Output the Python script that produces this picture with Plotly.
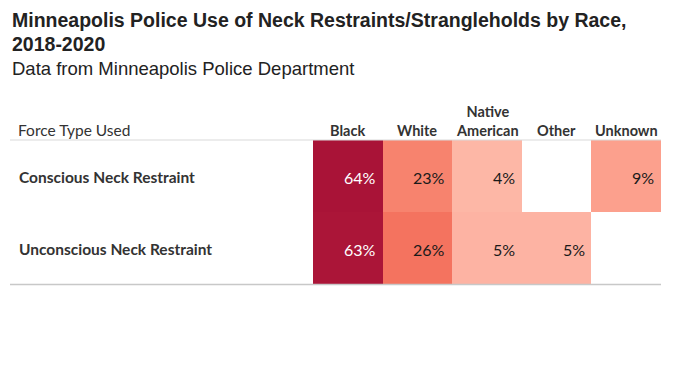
import plotly.graph_objects as go

# ---- data ----
force_types = ["Conscious Neck Restraint", "Unconscious Neck Restraint"]
races = ["Black", "White", "Native American", "Other", "Unknown"]
race_labels = ["Black", "White", "Native<br>American", "Other", "Unknown"]
conscious = [64, 23, 4, None, 9]
unconscious = [63, 26, 5, 5, None]
values = [conscious, unconscious]
title_text = "Minneapolis Police Use of Neck Restraints/Strangleholds by Race,<br>2018-2020"
subtitle_text = "Data from Minneapolis Police Department"

W, H = 680, 383
OFF = 8  # page body margin
def px_x(p):
    return (p - OFF) / W
def px_y(p):
    return 1 - (p - OFF) / H

# colour scale matching Tableau-like red sequential palette
zmin, zmax = 0, 64
stops = [(0, "#FFD5C9"), (4, "#FDB7A6"), (5, "#FDB3A3"), (9, "#FCA08D"),
         (23, "#F7836E"), (26, "#F4735F"), (63, "#AB1538"), (64, "#A91337")]
colorscale = [[v / zmax, c] for v, c in stops]

fig = go.Figure()
fig.add_trace(go.Heatmap(
    x=races, y=force_types, z=values,
    zmin=zmin, zmax=zmax, colorscale=colorscale, showscale=False,
    xgap=0, ygap=0, hoverinfo="skip",
))

annotations = []
for r, row in zip(force_types, values):
    for c, v in zip(races, row):
        if v is None:
            continue
        annotations.append(dict(
            x=c, y=r, xref="x", yref="y", text=f"{v}%", showarrow=False,
            xanchor="right", xshift=30, yshift=-2,
            font=dict(family="Lato", size=16, color="white" if v > 40 else "#1a1a1a"),
        ))
    annotations.append(dict(
        x=px_x(17), y=r, xref="paper", yref="y", text=f"<b>{r}</b>", showarrow=False,
        xanchor="left", yshift=-1.5,
        font=dict(family="Lato", size=15.5, color="#333333"),
    ))

for c, lab in zip(races, race_labels):
    annotations.append(dict(
        x=c, y=px_y(140.5), xref="x", yref="paper", text=f"<b>{lab}</b>", showarrow=False,
        xanchor="center", yanchor="bottom",
        font=dict(family="Lato", size=14.5, color="#333333"),
    ))
annotations.append(dict(
    x=px_x(16), y=px_y(140.5), xref="paper", yref="paper", text="Force Type Used",
    showarrow=False, xanchor="left", yanchor="bottom",
    font=dict(family="Lato", size=15.5, color="#333333"),
))

# title + subtitle in a single text block
annotations.append(dict(
    x=px_x(10), y=px_y(7), xref="paper", yref="paper",
    text=(f"<span style='font-size:19.5px'><b>{title_text}</b></span><br>"
          f"{subtitle_text}"),
    showarrow=False, xanchor="left", yanchor="top", align="left",
    font=dict(family="Liberation Sans", size=18.5, color="#222222"),
))

shapes = [
    dict(type="line", xref="paper", yref="paper", x0=px_x(10), x1=px_x(661),
         y0=px_y(140), y1=px_y(140), line=dict(color="#d9d9d9", width=1)),
    dict(type="line", xref="paper", yref="paper", x0=px_x(10), x1=px_x(661),
         y0=px_y(284.5), y1=px_y(284.5), line=dict(color="#c8c8c8", width=1.5)),
]

fig.update_layout(
    width=W, height=H, margin=dict(l=0, r=0, t=0, b=0),
    paper_bgcolor="white", plot_bgcolor="white",
    xaxis=dict(domain=[px_x(313), px_x(661)], showticklabels=False, showgrid=False,
               zeroline=False, fixedrange=True),
    yaxis=dict(domain=[px_y(284), px_y(140)], autorange="reversed", showticklabels=False,
               showgrid=False, zeroline=False, fixedrange=True),
    annotations=annotations, shapes=shapes, showlegend=False,
)

fig.write_html("out.html")
